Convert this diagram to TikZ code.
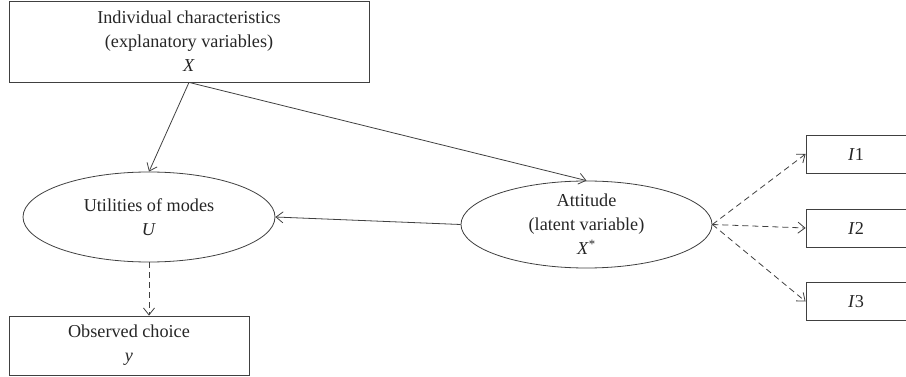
\documentclass[tikz,border=0pt]{standalone}
\usepackage{fontspec}
\setmainfont{Liberation Serif}
\usetikzlibrary{arrows.meta,shapes.geometric}
\begin{document}
\begin{tikzpicture}[x=1pt,y=-1pt,
    >={Straight Barb[length=7pt,width=11pt]},
    every node/.style={font=\fontsize{18.2}{24}\selectfont,align=center,text=black!85},
    box/.style={draw=black!75,thick,rectangle,inner sep=0pt},
    oval/.style={draw=black!75,thick,ellipse,inner sep=0pt},
    link/.style={->,draw=black!75,thick},
    dlink/.style={->,draw=black!75,thick,dash pattern=on 6pt off 4pt}]
    \useasboundingbox (0,0) rectangle (906,377);
    % Boxes
    \node[box,minimum width=360pt,minimum height=81pt] (chars) at (189,41.5)
      {Individual characteristics\\(explanatory variables)\\\textit{X}};
    \node[box,minimum width=240pt,minimum height=59pt] (choice) at (129,345.5)
      {Observed choice\\\textit{y}};
    \node[box,minimum width=100pt,minimum height=38pt] (ind1) at (856,154) {\textit{I}1};
    \node[box,minimum width=100pt,minimum height=38pt] (ind2) at (856,228) {\textit{I}2};
    \node[box,minimum width=100pt,minimum height=38pt] (ind3) at (856,301.5) {\textit{I}3};
    % Ellipses
    \node[oval,minimum width=252pt,minimum height=90pt] (util) at (149,217)
      {Utilities of modes\\\textit{U}};
    \node[oval,minimum width=251pt,minimum height=87pt] (att) at (586.5,224.5)
      {Attitude\\(latent variable)\\\textit{X}\textsuperscript{*}};
    % Arrows
    \draw[link] (chars.south) -- (util.north);
    \draw[link] (chars.south) -- (att.north);
    \draw[link] (att.west) -- (util.east);
    \draw[dlink] (util.south) -- (choice.north -| util.south);
    \foreach \i in {1,2,3} {
      \draw[dlink] (att.east) -- (ind\i.west);
    }
  \end{tikzpicture}
\end{document}
